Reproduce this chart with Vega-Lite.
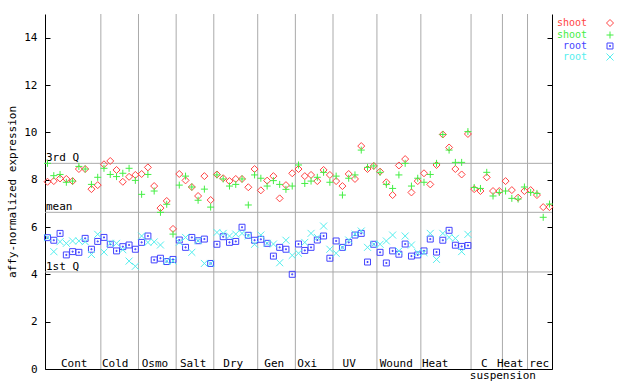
{
"$schema": "https://vega.github.io/schema/vega-lite/v6.json",
"width": 507, "height": 355,
"autosize": {"type": "none"},
"padding": {"left": 45, "top": 14, "right": 88, "bottom": 15},
"background": "white",
"config": {
  "view": {"stroke": null},
  "font": "DejaVu Sans Mono",
  "text": {"font": "DejaVu Sans Mono", "fontSize": 11, "color": "black"},
  "axis": {"grid": false, "labelFont": "DejaVu Sans Mono", "titleFont": "DejaVu Sans Mono", "labelFontSize": 11, "titleFontSize": 11, "titleFontWeight": "normal", "labelColor": "black", "titleColor": "black", "domainColor": "black", "tickColor": "black"},
  "axisX": {"ticks": false, "labels": false}
},
"datasets": {
  "seps": [{"b":8.5},{"b":14.5},{"b":20.5},{"b":26.5},{"b":33.5},{"b":39.5},{"b":45.5},{"b":52.5},{"b":59.5},{"b":67.5},{"b":72.5},{"b":76.5}],
  "stats": [{"label":"3rd Q","v":8.69},{"label":"mean","v":6.62},{"label":"1st Q","v":4.10}],
  "groups": [{"g":"Cont","c":4.26,"line":1},{"g":"Cold","c":10.79,"line":1},{"g":"Osmo","c":17.12,"line":1},{"g":"Salt","c":23.22,"line":1},{"g":"Dry","c":29.6,"line":1},{"g":"Gen","c":36.13,"line":1},{"g":"Oxi","c":41.39,"line":1},{"g":"UV","c":48.08,"line":1},{"g":"Wound","c":55.57,"line":1},{"g":"Heat","c":61.78,"line":1},{"g":"C","c":69.6,"line":1},{"g":"Heat","c":73.74,"line":1},{"g":"rec","c":78.36,"line":1},{"g":"suspension","c":72.57,"line":2}],
  "pts": [
{"i":0,"s":"shoot1","v":7.91},{"i":1,"s":"shoot1","v":7.94},{"i":2,"s":"shoot1","v":8.05},{"i":3,"s":"shoot1","v":8.03},{"i":4,"s":"shoot1","v":7.94},{"i":5,"s":"shoot1","v":8.45},{"i":6,"s":"shoot1","v":8.45},{"i":7,"s":"shoot1","v":7.60},{"i":8,"s":"shoot1","v":7.77},{"i":9,"s":"shoot1","v":8.65},
{"i":10,"s":"shoot1","v":8.79},{"i":11,"s":"shoot1","v":8.41},{"i":12,"s":"shoot1","v":7.91},{"i":13,"s":"shoot1","v":8.12},{"i":14,"s":"shoot1","v":8.20},{"i":15,"s":"shoot1","v":8.24},{"i":16,"s":"shoot1","v":8.52},{"i":17,"s":"shoot1","v":7.73},{"i":18,"s":"shoot1","v":6.80},{"i":19,"s":"shoot1","v":7.10},
{"i":20,"s":"shoot1","v":5.92},{"i":21,"s":"shoot1","v":8.24},{"i":22,"s":"shoot1","v":7.97},{"i":23,"s":"shoot1","v":7.69},{"i":24,"s":"shoot1","v":7.31},{"i":25,"s":"shoot1","v":8.15},{"i":26,"s":"shoot1","v":7.14},{"i":27,"s":"shoot1","v":8.22},{"i":28,"s":"shoot1","v":8.06},{"i":29,"s":"shoot1","v":7.94},
{"i":30,"s":"shoot1","v":8.03},{"i":31,"s":"shoot1","v":8.03},{"i":32,"s":"shoot1","v":7.68},{"i":33,"s":"shoot1","v":8.45},{"i":34,"s":"shoot1","v":7.55},{"i":35,"s":"shoot1","v":7.96},{"i":36,"s":"shoot1","v":8.15},{"i":37,"s":"shoot1","v":7.21},{"i":38,"s":"shoot1","v":7.77},{"i":39,"s":"shoot1","v":8.27},
{"i":40,"s":"shoot1","v":8.45},{"i":41,"s":"shoot1","v":8.15},{"i":42,"s":"shoot1","v":8.20},{"i":43,"s":"shoot1","v":7.94},{"i":44,"s":"shoot1","v":8.41},{"i":45,"s":"shoot1","v":8.20},{"i":46,"s":"shoot1","v":7.94},{"i":47,"s":"shoot1","v":7.73},{"i":48,"s":"shoot1","v":8.24},{"i":49,"s":"shoot1","v":8.03},
{"i":50,"s":"shoot1","v":9.42},{"i":51,"s":"shoot1","v":8.45},{"i":52,"s":"shoot1","v":8.58},{"i":53,"s":"shoot1","v":8.34},{"i":54,"s":"shoot1","v":7.89},{"i":55,"s":"shoot1","v":7.35},{"i":56,"s":"shoot1","v":8.60},{"i":57,"s":"shoot1","v":8.87},{"i":58,"s":"shoot1","v":7.46},{"i":59,"s":"shoot1","v":7.94},
{"i":60,"s":"shoot1","v":8.27},{"i":61,"s":"shoot1","v":7.80},{"i":62,"s":"shoot1","v":8.62},{"i":63,"s":"shoot1","v":9.91},{"i":64,"s":"shoot1","v":9.36},{"i":65,"s":"shoot1","v":8.45},{"i":66,"s":"shoot1","v":8.22},{"i":67,"s":"shoot1","v":9.93},{"i":68,"s":"shoot1","v":7.60},{"i":69,"s":"shoot1","v":7.52},
{"i":70,"s":"shoot1","v":8.10},{"i":71,"s":"shoot1","v":7.52},{"i":72,"s":"shoot1","v":7.52},{"i":73,"s":"shoot1","v":7.94},{"i":74,"s":"shoot1","v":7.56},{"i":75,"s":"shoot1","v":7.24},{"i":76,"s":"shoot1","v":7.52},{"i":77,"s":"shoot1","v":7.56},{"i":78,"s":"shoot1","v":7.35},{"i":79,"s":"shoot1","v":6.84},{"i":80,"s":"shoot1","v":6.84},
{"i":0,"s":"shoot2","v":8.69},{"i":1,"s":"shoot2","v":8.17},{"i":2,"s":"shoot2","v":8.22},{"i":3,"s":"shoot2","v":7.89},{"i":4,"s":"shoot2","v":7.94},{"i":5,"s":"shoot2","v":8.56},{"i":6,"s":"shoot2","v":8.45},{"i":7,"s":"shoot2","v":7.80},{"i":8,"s":"shoot2","v":8.10},{"i":9,"s":"shoot2","v":8.48},
{"i":10,"s":"shoot2","v":8.22},{"i":11,"s":"shoot2","v":8.13},{"i":12,"s":"shoot2","v":8.27},{"i":13,"s":"shoot2","v":8.48},{"i":14,"s":"shoot2","v":7.97},{"i":15,"s":"shoot2","v":7.38},{"i":16,"s":"shoot2","v":8.22},{"i":17,"s":"shoot2","v":7.52},{"i":18,"s":"shoot2","v":6.62},{"i":19,"s":"shoot2","v":6.96},
{"i":20,"s":"shoot2","v":5.70},{"i":21,"s":"shoot2","v":7.77},{"i":22,"s":"shoot2","v":8.15},{"i":23,"s":"shoot2","v":7.69},{"i":24,"s":"shoot2","v":7.13},{"i":25,"s":"shoot2","v":7.60},{"i":26,"s":"shoot2","v":6.84},{"i":27,"s":"shoot2","v":8.20},{"i":28,"s":"shoot2","v":8.03},{"i":29,"s":"shoot2","v":7.73},
{"i":30,"s":"shoot2","v":7.80},{"i":31,"s":"shoot2","v":8.03},{"i":32,"s":"shoot2","v":6.93},{"i":33,"s":"shoot2","v":8.20},{"i":34,"s":"shoot2","v":8.06},{"i":35,"s":"shoot2","v":7.73},{"i":36,"s":"shoot2","v":7.96},{"i":37,"s":"shoot2","v":7.80},{"i":38,"s":"shoot2","v":7.59},{"i":39,"s":"shoot2","v":7.73},
{"i":40,"s":"shoot2","v":8.62},{"i":41,"s":"shoot2","v":7.84},{"i":42,"s":"shoot2","v":7.94},{"i":43,"s":"shoot2","v":8.10},{"i":44,"s":"shoot2","v":8.31},{"i":45,"s":"shoot2","v":7.89},{"i":46,"s":"shoot2","v":8.15},{"i":47,"s":"shoot2","v":7.35},{"i":48,"s":"shoot2","v":8.06},{"i":49,"s":"shoot2","v":8.20},
{"i":50,"s":"shoot2","v":9.25},{"i":51,"s":"shoot2","v":8.52},{"i":52,"s":"shoot2","v":8.58},{"i":53,"s":"shoot2","v":8.31},{"i":54,"s":"shoot2","v":7.80},{"i":55,"s":"shoot2","v":7.63},{"i":56,"s":"shoot2","v":8.20},{"i":57,"s":"shoot2","v":8.69},{"i":58,"s":"shoot2","v":7.73},{"i":59,"s":"shoot2","v":8.06},
{"i":60,"s":"shoot2","v":7.89},{"i":61,"s":"shoot2","v":8.22},{"i":62,"s":"shoot2","v":8.69},{"i":63,"s":"shoot2","v":9.91},{"i":64,"s":"shoot2","v":9.25},{"i":65,"s":"shoot2","v":8.73},{"i":66,"s":"shoot2","v":8.73},{"i":67,"s":"shoot2","v":10.03},{"i":68,"s":"shoot2","v":7.67},{"i":69,"s":"shoot2","v":7.63},
{"i":70,"s":"shoot2","v":8.31},{"i":71,"s":"shoot2","v":7.31},{"i":72,"s":"shoot2","v":7.46},{"i":73,"s":"shoot2","v":7.52},{"i":74,"s":"shoot2","v":7.21},{"i":75,"s":"shoot2","v":7.18},{"i":76,"s":"shoot2","v":7.69},{"i":77,"s":"shoot2","v":7.46},{"i":78,"s":"shoot2","v":7.42},{"i":79,"s":"shoot2","v":6.41},{"i":80,"s":"shoot2","v":6.97},
{"i":0,"s":"root1","v":5.55},{"i":1,"s":"root1","v":5.44},{"i":2,"s":"root1","v":5.73},{"i":3,"s":"root1","v":4.82},{"i":4,"s":"root1","v":4.96},{"i":5,"s":"root1","v":4.93},{"i":6,"s":"root1","v":5.52},{"i":7,"s":"root1","v":5.06},{"i":8,"s":"root1","v":5.39},{"i":9,"s":"root1","v":5.56},
{"i":10,"s":"root1","v":5.27},{"i":11,"s":"root1","v":4.99},{"i":12,"s":"root1","v":5.17},{"i":13,"s":"root1","v":5.24},{"i":14,"s":"root1","v":5.06},{"i":15,"s":"root1","v":5.35},{"i":16,"s":"root1","v":5.62},{"i":17,"s":"root1","v":4.61},{"i":18,"s":"root1","v":4.68},{"i":19,"s":"root1","v":4.54},
{"i":20,"s":"root1","v":4.63},{"i":21,"s":"root1","v":5.45},{"i":22,"s":"root1","v":5.14},{"i":23,"s":"root1","v":5.56},{"i":24,"s":"root1","v":5.42},{"i":25,"s":"root1","v":5.49},{"i":26,"s":"root1","v":4.46},{"i":27,"s":"root1","v":5.27},{"i":28,"s":"root1","v":5.59},{"i":29,"s":"root1","v":5.35},
{"i":30,"s":"root1","v":5.39},{"i":31,"s":"root1","v":5.99},{"i":32,"s":"root1","v":5.65},{"i":33,"s":"root1","v":5.44},{"i":34,"s":"root1","v":5.48},{"i":35,"s":"root1","v":5.31},{"i":36,"s":"root1","v":4.77},{"i":37,"s":"root1","v":5.14},{"i":38,"s":"root1","v":5.06},{"i":39,"s":"root1","v":4.00},
{"i":40,"s":"root1","v":5.28},{"i":41,"s":"root1","v":5.01},{"i":42,"s":"root1","v":5.14},{"i":43,"s":"root1","v":5.45},{"i":44,"s":"root1","v":5.62},{"i":45,"s":"root1","v":4.68},{"i":46,"s":"root1","v":5.41},{"i":47,"s":"root1","v":5.14},{"i":48,"s":"root1","v":5.35},{"i":49,"s":"root1","v":5.66},
{"i":50,"s":"root1","v":5.73},{"i":51,"s":"root1","v":4.52},{"i":52,"s":"root1","v":5.27},{"i":53,"s":"root1","v":4.93},{"i":54,"s":"root1","v":4.48},{"i":55,"s":"root1","v":4.99},{"i":56,"s":"root1","v":4.85},{"i":57,"s":"root1","v":5.28},{"i":58,"s":"root1","v":4.77},{"i":59,"s":"root1","v":4.82},
{"i":60,"s":"root1","v":4.99},{"i":61,"s":"root1","v":5.49},{"i":62,"s":"root1","v":4.94},{"i":63,"s":"root1","v":5.44},{"i":64,"s":"root1","v":5.86},{"i":65,"s":"root1","v":5.23},{"i":66,"s":"root1","v":5.18},{"i":67,"s":"root1","v":5.22},
{"i":0,"s":"root2","v":5.55},{"i":1,"s":"root2","v":4.96},{"i":2,"s":"root2","v":5.38},{"i":3,"s":"root2","v":5.31},{"i":4,"s":"root2","v":5.41},{"i":5,"s":"root2","v":5.41},{"i":6,"s":"root2","v":5.38},{"i":7,"s":"root2","v":4.84},{"i":8,"s":"root2","v":5.69},{"i":9,"s":"root2","v":4.94},
{"i":10,"s":"root2","v":5.31},{"i":11,"s":"root2","v":5.31},{"i":12,"s":"root2","v":5.04},{"i":13,"s":"root2","v":4.56},{"i":14,"s":"root2","v":4.34},{"i":15,"s":"root2","v":5.62},{"i":16,"s":"root2","v":5.35},{"i":17,"s":"root2","v":5.37},{"i":18,"s":"root2","v":5.24},{"i":19,"s":"root2","v":4.56},
{"i":20,"s":"root2","v":4.56},{"i":21,"s":"root2","v":5.35},{"i":22,"s":"root2","v":5.56},{"i":23,"s":"root2","v":4.93},{"i":24,"s":"root2","v":5.42},{"i":25,"s":"root2","v":4.46},{"i":26,"s":"root2","v":4.46},{"i":27,"s":"root2","v":5.77},{"i":28,"s":"root2","v":5.73},{"i":29,"s":"root2","v":5.62},
{"i":30,"s":"root2","v":5.70},{"i":31,"s":"root2","v":5.73},{"i":32,"s":"root2","v":5.62},{"i":33,"s":"root2","v":5.27},{"i":34,"s":"root2","v":5.66},{"i":35,"s":"root2","v":5.31},{"i":36,"s":"root2","v":5.28},{"i":37,"s":"root2","v":4.49},{"i":38,"s":"root2","v":5.44},{"i":39,"s":"root2","v":4.80},
{"i":40,"s":"root2","v":4.89},{"i":41,"s":"root2","v":5.35},{"i":42,"s":"root2","v":5.73},{"i":43,"s":"root2","v":5.56},{"i":44,"s":"root2","v":6.04},{"i":45,"s":"root2","v":5.06},{"i":46,"s":"root2","v":4.89},{"i":47,"s":"root2","v":5.14},{"i":48,"s":"root2","v":5.45},{"i":49,"s":"root2","v":5.70},
{"i":50,"s":"root2","v":5.83},{"i":51,"s":"root2","v":5.14},{"i":52,"s":"root2","v":5.27},{"i":53,"s":"root2","v":5.27},{"i":54,"s":"root2","v":5.41},{"i":55,"s":"root2","v":5.66},{"i":56,"s":"root2","v":4.99},{"i":57,"s":"root2","v":5.62},{"i":58,"s":"root2","v":5.24},{"i":59,"s":"root2","v":4.92},
{"i":60,"s":"root2","v":4.92},{"i":61,"s":"root2","v":5.73},{"i":62,"s":"root2","v":4.63},{"i":63,"s":"root2","v":5.73},{"i":64,"s":"root2","v":5.56},{"i":65,"s":"root2","v":5.52},{"i":66,"s":"root2","v":4.96},{"i":67,"s":"root2","v":5.69}
  ]
},
"layer": [
  {"data": {"name": "seps"},
   "mark": {"type": "rule", "color": "#aaaaaa", "strokeWidth": 1},
   "encoding": {"x": {"field": "b", "type": "quantitative", "title": null, "scale": {"domain": [-0.4, 80.4], "nice": false, "zero": false}}}},
  {"data": {"name": "stats"},
   "mark": {"type": "rule", "color": "#aaaaaa", "strokeWidth": 1},
   "encoding": {"y": {"field": "v", "type": "quantitative", "title": null, "scale": {"domain": [0, 15], "nice": false, "zero": false},
     "axis": {"orient": "right", "values": [0,2,4,6,8,10,12,14], "tickSize": -5, "labels": false, "title": null}}}},
  {"data": {"name": "stats"},
   "mark": {"type": "text", "align": "left", "baseline": "alphabetic", "dx": 1, "dy": -2},
   "encoding": {"x": {"datum": -0.4, "type": "quantitative", "title": null, "scale": {"domain": [-0.4, 80.4], "nice": false, "zero": false}},
     "y": {"field": "v", "type": "quantitative", "axis": null, "scale": {"domain": [0, 15], "nice": false, "zero": false}},
     "text": {"field": "label"}}},
  {"data": {"name": "pts"},
   "mark": {"type": "point", "filled": false, "size": 49, "strokeWidth": 1, "opacity": 1},
   "encoding": {"x": {"field": "i", "type": "quantitative", "title": null, "scale": {"domain": [-0.4, 80.4], "nice": false, "zero": false}},
     "y": {"field": "v", "type": "quantitative", "title": "affy-normalized expression", "scale": {"domain": [0, 15], "nice": false, "zero": false},
       "axis": {"orient": "left", "values": [0,2,4,6,8,10,12,14], "tickSize": -5, "labelPadding": 13, "titlePadding": 6}},
     "color": {"field": "s", "type": "nominal", "scale": {"domain": ["shoot1","shoot2","root1","root2"], "range": ["#ff4444","#44ee44","#4444ff","#55eeee"]},
       "legend": {"orient": "none", "legendX": 560, "legendY": 4, "title": null, "labelFont": "DejaVu Sans Mono", "labelFontSize": 10, "labelAlign": "right", "labelOffset": -28, "symbolSize": 49, "symbolStrokeWidth": 1, "rowPadding": 0, "labelExpr": "slice(datum.label,0,-1)",
         "labelColor": {"expr": "scale('color', datum.value)"}}},
     "shape": {"field": "s", "type": "nominal", "scale": {"domain": ["shoot1","shoot2","root1","root2"], "range": ["diamond","M-1,0H1M0,-1V1","M-0.85,-0.85H0.85V0.85H-0.85ZM-0.15,-0.15H0.15V0.15H-0.15Z","M-1,-1L1,1M1,-1L-1,1"]},
       "legend": {"orient": "none", "legendX": 560, "legendY": 4, "title": null, "labelFont": "DejaVu Sans Mono", "labelFontSize": 10, "labelAlign": "right", "labelOffset": -28, "symbolSize": 49, "symbolStrokeWidth": 1, "rowPadding": 0, "labelExpr": "slice(datum.label,0,-1)",
         "labelColor": {"expr": "scale('color', datum.value)"}}}}},
  {"data": {"name": "groups"},
   "transform": [{"filter": "datum.line == 1"}],
   "mark": {"type": "text", "align": "center", "baseline": "alphabetic", "dy": -2},
   "encoding": {"x": {"field": "c", "type": "quantitative", "title": null, "scale": {"domain": [-0.4, 80.4], "nice": false, "zero": false}},
     "y": {"datum": 0, "type": "quantitative", "axis": null, "scale": {"domain": [0, 15], "nice": false, "zero": false}},
     "text": {"field": "g"}}},
  {"data": {"name": "groups"},
   "transform": [{"filter": "datum.line == 2"}],
   "mark": {"type": "text", "align": "center", "baseline": "alphabetic", "dy": 10},
   "encoding": {"x": {"field": "c", "type": "quantitative", "title": null, "scale": {"domain": [-0.4, 80.4], "nice": false, "zero": false}},
     "y": {"datum": 0, "type": "quantitative", "axis": null, "scale": {"domain": [0, 15], "nice": false, "zero": false}},
     "text": {"field": "g"}}}
],
"resolve": {"axis": {"y": "independent"}}
}
